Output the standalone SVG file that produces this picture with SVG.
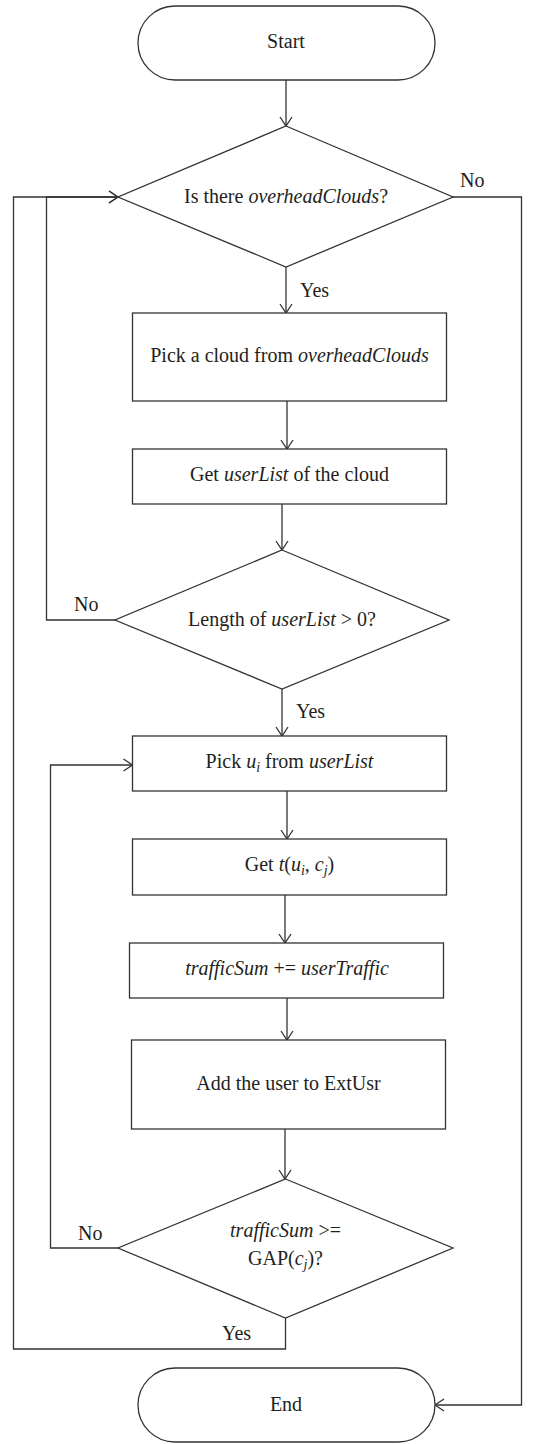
<svg xmlns="http://www.w3.org/2000/svg" width="544" height="1444" viewBox="0 0 544 1444">
  <style>
    .shape { fill: #ffffff; stroke: #333333; stroke-width: 1.3; }
    .wire { fill: none; stroke: #333333; stroke-width: 1.3; }
    text { font-family: "Liberation Serif", "Times New Roman", serif; font-size: 20px; fill: #231f20; }
    .c { text-anchor: middle; }
    .i { font-style: italic; }
    .sub { font-size: 14px; font-style: italic; }
  </style>
  <defs>
    <marker id="arrow" markerUnits="userSpaceOnUse" markerWidth="14" markerHeight="14" viewBox="-10 -7 12 14" refX="0" refY="0" orient="auto">
      <path d="M-9,-6 L0,0 L-9,6" fill="none" stroke="#333333" stroke-width="1.3"/>
    </marker>
  </defs>

  <g id="connectors">
    <path class="wire" d="M286,80 V126" marker-end="url(#arrow)"/>
    <path class="wire" d="M286,267 V313" marker-end="url(#arrow)"/>
    <path class="wire" d="M287,401 V449" marker-end="url(#arrow)"/>
    <path class="wire" d="M282,504 V550" marker-end="url(#arrow)"/>
    <path class="wire" d="M282,689 V736" marker-end="url(#arrow)"/>
    <path class="wire" d="M287,791 V839" marker-end="url(#arrow)"/>
    <path class="wire" d="M285,895 V943" marker-end="url(#arrow)"/>
    <path class="wire" d="M287,998 V1040" marker-end="url(#arrow)"/>
    <path class="wire" d="M285,1129 V1179" marker-end="url(#arrow)"/>
    <!-- no more clouds: exit to End -->
    <path class="wire" d="M453,197 H521.5 V1405 H435" marker-end="url(#arrow)"/>
    <!-- empty user list: back to the cloud check -->
    <path class="wire" d="M115,620 H46.5 V197 H118" marker-end="url(#arrow)"/>
    <!-- gap reached: back to the cloud check -->
    <path class="wire" d="M285.5,1318 V1349 H13.5 V197 H118" marker-end="url(#arrow)"/>
    <!-- gap not reached: next user -->
    <path class="wire" d="M118,1248 H50.5 V765 H132.5" marker-end="url(#arrow)"/>
    <text x="460" y="187">No</text>
    <text x="300" y="297">Yes</text>
    <text x="74" y="611">No</text>
    <text x="296" y="718">Yes</text>
    <text x="78" y="1240">No</text>
    <text x="222" y="1340">Yes</text>
  </g>

  <g id="start">
    <rect class="shape" x="138" y="6" width="297" height="74" rx="37" ry="37"/>
    <text class="c" x="286" y="48">Start</text>
  </g>

  <g id="check-clouds">
    <polygon class="shape" points="286,126 453,197 286,267 118,197"/>
    <text class="c" x="286" y="203">Is there <tspan class="i">overheadClouds</tspan>?</text>
  </g>

  <g id="pick-cloud">
    <rect class="shape" x="132.5" y="313" width="314" height="88"/>
    <text class="c" x="289.5" y="362">Pick a cloud from <tspan class="i">overheadClouds</tspan></text>
  </g>

  <g id="get-userlist">
    <rect class="shape" x="132.5" y="449" width="314" height="55"/>
    <text class="c" x="289.5" y="481">Get <tspan class="i">userList</tspan> of the cloud</text>
  </g>

  <g id="check-length">
    <polygon class="shape" points="282,550 449,620 282,689 115,620"/>
    <text class="c" x="282" y="626">Length of <tspan class="i">userList</tspan> &gt; 0?</text>
  </g>

  <g id="pick-user">
    <rect class="shape" x="132.5" y="736" width="314" height="55"/>
    <text class="c" x="289.5" y="768">Pick <tspan class="i">u</tspan><tspan class="sub" dy="4">i</tspan><tspan dy="-4"> from </tspan><tspan class="i">userList</tspan></text>
  </g>

  <g id="get-traffic">
    <rect class="shape" x="132.5" y="839" width="314" height="56"/>
    <text class="c" x="289.5" y="871">Get <tspan class="i">t</tspan>(<tspan class="i">u</tspan><tspan class="sub" dy="4">i</tspan><tspan dy="-4">, </tspan><tspan class="i">c</tspan><tspan class="sub" dy="4">j</tspan><tspan dy="-4">)</tspan></text>
  </g>

  <g id="sum-traffic">
    <rect class="shape" x="129.5" y="943" width="314" height="55"/>
    <text class="c" x="287" y="975"><tspan class="i">trafficSum</tspan> += <tspan class="i">userTraffic</tspan></text>
  </g>

  <g id="add-user">
    <rect class="shape" x="131.5" y="1040" width="314" height="89"/>
    <text class="c" x="288.5" y="1090">Add the user to ExtUsr</text>
  </g>

  <g id="check-gap">
    <polygon class="shape" points="285.5,1179 453,1248 285.5,1318 118,1248"/>
    <text class="c" x="285.5" y="1237"><tspan class="i">trafficSum</tspan> &gt;=</text>
    <text class="c" x="285.5" y="1265">GAP(<tspan class="i">c</tspan><tspan class="sub" dy="4">j</tspan><tspan dy="-4">)?</tspan></text>
  </g>

  <g id="end">
    <rect class="shape" x="138" y="1368" width="297" height="74" rx="37" ry="37"/>
    <text class="c" x="286" y="1411">End</text>
  </g>
</svg>
